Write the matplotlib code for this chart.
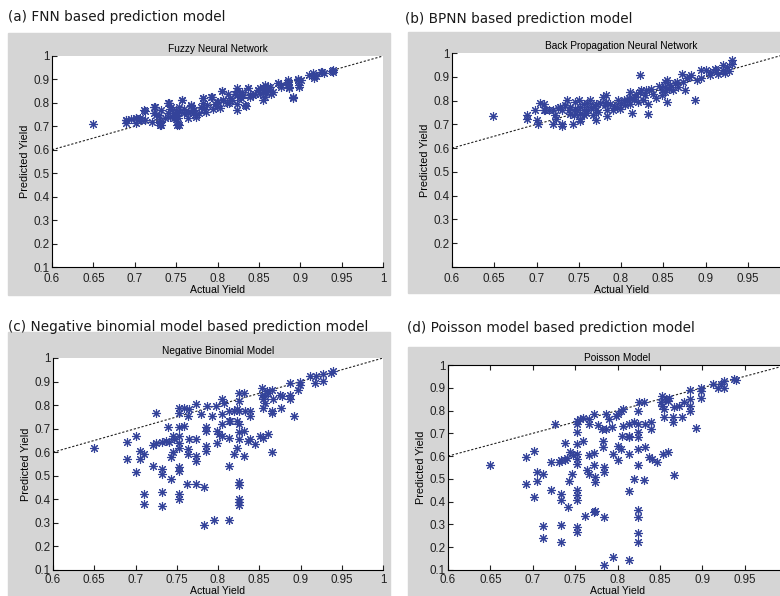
import matplotlib
matplotlib.use("Agg")
import matplotlib.pyplot as plt
from matplotlib.patches import Rectangle

# yield data, actual vs predicted, one pair of lists per model
fnn_x = [0.650, 0.690, 0.690, 0.701, 0.701, 0.706, 0.711, 0.712, 0.721, 0.723,
         0.723, 0.729, 0.730, 0.731, 0.732, 0.736, 0.740, 0.741, 0.742, 0.744,
         0.747, 0.750, 0.750, 0.752, 0.753, 0.752, 0.754, 0.757, 0.760, 0.764,
         0.764, 0.768, 0.770, 0.772, 0.774, 0.778, 0.782, 0.783, 0.784, 0.786,
         0.792, 0.797, 0.799, 0.801, 0.803, 0.805, 0.807, 0.813, 0.814, 0.817,
         0.823, 0.824, 0.824, 0.824, 0.829, 0.831, 0.835, 0.837, 0.839, 0.843,
         0.849, 0.851, 0.855, 0.855, 0.857, 0.859, 0.861, 0.863, 0.867, 0.873,
         0.877, 0.885, 0.885, 0.887, 0.891, 0.897, 0.898, 0.901, 0.911, 0.917,
         0.917, 0.925, 0.938, 0.940,
         0.690, 0.696, 0.702, 0.708, 0.712, 0.724, 0.726, 0.730, 0.732, 0.740,
         0.742, 0.746, 0.750, 0.751, 0.754, 0.757, 0.760, 0.764, 0.768, 0.770,
         0.774, 0.780, 0.782, 0.787, 0.793, 0.795, 0.799, 0.805, 0.807, 0.811,
         0.815, 0.821, 0.823, 0.827, 0.830, 0.833, 0.837, 0.839, 0.845, 0.849,
         0.851, 0.855, 0.857, 0.861, 0.865, 0.873, 0.877, 0.885, 0.887, 0.891,
         0.897, 0.899, 0.915, 0.919, 0.926, 0.929, 0.940]
fnn_y = [0.709, 0.729, 0.715, 0.734, 0.715, 0.734, 0.769, 0.729, 0.719, 0.781,
         0.755, 0.748, 0.715, 0.705, 0.769, 0.734, 0.758, 0.800, 0.741, 0.783,
         0.734, 0.769, 0.748, 0.712, 0.705, 0.734, 0.783, 0.812, 0.755, 0.762,
         0.734, 0.786, 0.755, 0.769, 0.741, 0.755, 0.798, 0.819, 0.776, 0.762,
         0.826, 0.795, 0.786, 0.805, 0.779, 0.852, 0.812, 0.838, 0.800, 0.812,
         0.852, 0.833, 0.795, 0.769, 0.819, 0.833, 0.786, 0.862, 0.823, 0.833,
         0.855, 0.838, 0.862, 0.812, 0.876, 0.848, 0.855, 0.866, 0.848, 0.883,
         0.866, 0.880, 0.890, 0.862, 0.823, 0.900, 0.876, 0.897, 0.919, 0.915,
         0.905, 0.933, 0.937, 0.933,
         0.726, 0.733, 0.736, 0.726, 0.765, 0.783, 0.748, 0.722, 0.705, 0.798,
         0.776, 0.755, 0.733, 0.705, 0.762, 0.812, 0.776, 0.755, 0.791, 0.769,
         0.748, 0.783, 0.819, 0.791, 0.826, 0.776, 0.805, 0.850, 0.812, 0.798,
         0.819, 0.840, 0.862, 0.826, 0.848, 0.791, 0.862, 0.833, 0.840, 0.855,
         0.862, 0.848, 0.826, 0.869, 0.840, 0.883, 0.876, 0.897, 0.869, 0.822,
         0.897, 0.869, 0.926, 0.916, 0.933, 0.926, 0.940]

bpnn_x = [0.649, 0.689, 0.689, 0.698, 0.700, 0.702, 0.704, 0.709, 0.709, 0.710,
          0.720, 0.720, 0.722, 0.723, 0.728, 0.730, 0.730, 0.730, 0.736, 0.738,
          0.740, 0.743, 0.744, 0.746, 0.748, 0.750, 0.751, 0.752, 0.752, 0.752,
          0.756, 0.756, 0.761, 0.763, 0.765, 0.767, 0.769, 0.771, 0.771, 0.773,
          0.779, 0.781, 0.782, 0.782, 0.783, 0.783, 0.787, 0.795, 0.797, 0.799,
          0.803, 0.807, 0.811, 0.811, 0.813, 0.817, 0.820, 0.822, 0.822, 0.824,
          0.826, 0.830, 0.832, 0.832, 0.836, 0.838, 0.848, 0.848, 0.852, 0.852,
          0.852, 0.854, 0.854, 0.858, 0.862, 0.866, 0.872, 0.873, 0.876, 0.881,
          0.883, 0.887, 0.895, 0.895, 0.905, 0.905, 0.911, 0.912, 0.915, 0.921,
          0.921, 0.923, 0.931, 0.931,
          0.715, 0.734, 0.745, 0.758, 0.775, 0.790, 0.805, 0.815, 0.828, 0.842,
          0.845, 0.857, 0.864, 0.868, 0.878, 0.890, 0.900, 0.926, 0.928, 0.760,
          0.770, 0.792, 0.800, 0.809, 0.818, 0.740, 0.726, 0.756]
bpnn_y = [0.734, 0.738, 0.724, 0.762, 0.720, 0.703, 0.790, 0.787, 0.759, 0.759,
          0.759, 0.703, 0.738, 0.724, 0.773, 0.759, 0.703, 0.692, 0.801, 0.759,
          0.773, 0.703, 0.738, 0.794, 0.759, 0.801, 0.773, 0.724, 0.745, 0.715,
          0.787, 0.759, 0.759, 0.801, 0.773, 0.738, 0.776, 0.787, 0.720, 0.752,
          0.815, 0.780, 0.822, 0.794, 0.759, 0.734, 0.787, 0.773, 0.801, 0.766,
          0.804, 0.804, 0.787, 0.836, 0.748, 0.815, 0.794, 0.906, 0.836, 0.846,
          0.801, 0.846, 0.787, 0.745, 0.850, 0.829, 0.846, 0.822, 0.878, 0.857,
          0.836, 0.885, 0.794, 0.864, 0.843, 0.878, 0.910, 0.878, 0.843, 0.899,
          0.906, 0.801, 0.927, 0.896, 0.906, 0.920, 0.934, 0.927, 0.913, 0.948,
          0.927, 0.916, 0.972, 0.955,
          0.762, 0.780, 0.766, 0.748, 0.790, 0.762, 0.780, 0.808, 0.822, 0.812,
          0.860, 0.850, 0.872, 0.858, 0.896, 0.888, 0.928, 0.940, 0.926, 0.790,
          0.760, 0.776, 0.790, 0.812, 0.828, 0.744, 0.770, 0.740]

nb_x = [0.650, 0.690, 0.690, 0.700, 0.700, 0.705, 0.705, 0.710, 0.710, 0.710,
        0.721, 0.721, 0.725, 0.725, 0.732, 0.732, 0.732, 0.732, 0.732, 0.737,
        0.739, 0.741, 0.743, 0.743, 0.745, 0.745, 0.747, 0.753, 0.753, 0.753,
        0.753, 0.753, 0.753, 0.753, 0.753, 0.753, 0.753, 0.759, 0.759, 0.764,
        0.764, 0.765, 0.764, 0.765, 0.763, 0.773, 0.773, 0.773, 0.773, 0.773,
        0.779, 0.783, 0.783, 0.785, 0.785, 0.785, 0.785, 0.787, 0.793, 0.795,
        0.797, 0.799, 0.799, 0.801, 0.805, 0.805, 0.807, 0.805, 0.805, 0.813,
        0.813, 0.813, 0.813, 0.815, 0.813, 0.819, 0.819, 0.823, 0.825, 0.825,
        0.825, 0.823, 0.825, 0.825, 0.825, 0.823, 0.825, 0.825, 0.825, 0.825,
        0.825, 0.832, 0.833, 0.832, 0.832, 0.836, 0.839, 0.839, 0.839, 0.845,
        0.851, 0.855, 0.853, 0.853, 0.855, 0.857, 0.859, 0.861, 0.857, 0.855,
        0.860, 0.865, 0.866, 0.866, 0.867, 0.866, 0.875, 0.877, 0.876, 0.887,
        0.887, 0.887, 0.892, 0.897, 0.899, 0.899, 0.912, 0.917, 0.919, 0.927,
        0.927, 0.937, 0.939]
nb_y = [0.620, 0.644, 0.571, 0.667, 0.515, 0.606, 0.571, 0.592, 0.423, 0.381,
        0.543, 0.630, 0.641, 0.768, 0.644, 0.529, 0.508, 0.430, 0.370, 0.648,
        0.705, 0.644, 0.487, 0.578, 0.600, 0.670, 0.655, 0.789, 0.768, 0.705,
        0.670, 0.641, 0.620, 0.536, 0.522, 0.423, 0.402, 0.712, 0.789, 0.613,
        0.592, 0.655, 0.754, 0.782, 0.466, 0.466, 0.803, 0.655, 0.585, 0.564,
        0.761, 0.452, 0.290, 0.705, 0.691, 0.627, 0.606, 0.796, 0.754, 0.311,
        0.796, 0.691, 0.641, 0.677, 0.761, 0.824, 0.810, 0.719, 0.670, 0.543,
        0.311, 0.662, 0.733, 0.733, 0.775, 0.775, 0.592, 0.782, 0.775, 0.852,
        0.817, 0.733, 0.719, 0.684, 0.655, 0.620, 0.473, 0.459, 0.402, 0.388,
        0.374, 0.852, 0.775, 0.691, 0.585, 0.648, 0.775, 0.754, 0.655, 0.634,
        0.670, 0.662, 0.873, 0.845, 0.824, 0.838, 0.859, 0.852, 0.810, 0.789,
        0.677, 0.866, 0.775, 0.768, 0.824, 0.600, 0.845, 0.838, 0.789, 0.824,
        0.845, 0.894, 0.754, 0.866, 0.887, 0.900, 0.922, 0.894, 0.922, 0.930,
        0.901, 0.937, 0.944]

poisson_x = [0.650, 0.692, 0.692, 0.702, 0.702, 0.705, 0.705, 0.712, 0.712, 0.712,
             0.722, 0.722, 0.726, 0.731, 0.733, 0.733, 0.733, 0.733, 0.733, 0.738,
             0.740, 0.738, 0.742, 0.743, 0.744, 0.746, 0.748, 0.752, 0.752, 0.752,
             0.752, 0.752, 0.752, 0.752, 0.752, 0.752, 0.752, 0.752, 0.752, 0.756,
             0.759, 0.759, 0.764, 0.766, 0.762, 0.766, 0.766, 0.766, 0.772, 0.772,
             0.774, 0.772, 0.772, 0.773, 0.773, 0.777, 0.782, 0.783, 0.783, 0.784,
             0.784, 0.784, 0.784, 0.786, 0.786, 0.790, 0.794, 0.795, 0.795, 0.798,
             0.800, 0.800, 0.800, 0.804, 0.805, 0.806, 0.806, 0.804, 0.814, 0.814,
             0.814, 0.814, 0.814, 0.814, 0.820, 0.820, 0.824, 0.824, 0.824, 0.824,
             0.824, 0.824, 0.824, 0.824, 0.824, 0.824, 0.825, 0.831, 0.831, 0.833,
             0.839, 0.839, 0.833, 0.837, 0.841, 0.847, 0.852, 0.851, 0.853, 0.855,
             0.857, 0.859, 0.861, 0.855, 0.854, 0.859, 0.865, 0.865, 0.867, 0.867,
             0.873, 0.876, 0.878, 0.886, 0.886, 0.886, 0.886, 0.893, 0.898, 0.899,
             0.898, 0.913, 0.918, 0.922, 0.926, 0.926, 0.938, 0.940]
poisson_y = [0.563, 0.479, 0.595, 0.624, 0.421, 0.530, 0.489, 0.523, 0.293, 0.239,
             0.450, 0.574, 0.741, 0.574, 0.581, 0.435, 0.406, 0.297, 0.224, 0.581,
             0.591, 0.658, 0.377, 0.489, 0.620, 0.523, 0.603, 0.755, 0.741, 0.705,
             0.654, 0.610, 0.588, 0.566, 0.450, 0.428, 0.406, 0.290, 0.268, 0.763,
             0.766, 0.668, 0.537, 0.523, 0.338, 0.603, 0.763, 0.741, 0.562, 0.355,
             0.358, 0.614, 0.785, 0.508, 0.486, 0.737, 0.719, 0.668, 0.639, 0.333,
             0.122, 0.552, 0.530, 0.785, 0.719, 0.763, 0.726, 0.610, 0.159, 0.777,
             0.785, 0.581, 0.646, 0.632, 0.690, 0.734, 0.806, 0.799, 0.741, 0.690,
             0.683, 0.445, 0.144, 0.610, 0.501, 0.748, 0.741, 0.799, 0.707, 0.683,
             0.632, 0.559, 0.362, 0.333, 0.261, 0.224, 0.836, 0.838, 0.493, 0.741,
             0.751, 0.719, 0.639, 0.595, 0.588, 0.576, 0.862, 0.836, 0.821, 0.806,
             0.850, 0.843, 0.857, 0.770, 0.610, 0.617, 0.748, 0.770, 0.814, 0.518,
             0.821, 0.770, 0.836, 0.850, 0.821, 0.799, 0.891, 0.722, 0.901, 0.886,
             0.853, 0.916, 0.897, 0.916, 0.930, 0.897, 0.937, 0.934]

x_ticks = [0.6, 0.65, 0.7, 0.75, 0.8, 0.85, 0.9, 0.95, 1]
x_tick_labels = ["0.6", "0.65", "0.7", "0.75", "0.8", "0.85", "0.9", "0.95", "1"]
y_ticks = [0.1, 0.2, 0.3, 0.4, 0.5, 0.6, 0.7, 0.8, 0.9, 1]
y_tick_labels = ["0.1", "0.2", "0.3", "0.4", "0.5", "0.6", "0.7", "0.8", "0.9", "1"]

W, H = 780, 596
GREY = "#d5d5d5"
STAR = "#34439a"
TICK_FONT = "Liberation Sans"


def px_rect(left, top, right, bottom):
    # pixel box (origin top-left) -> figure fraction [l, b, w, h]
    return [left / W, 1 - bottom / H, (right - left) / W, (bottom - top) / H]


def panel(fig, frame, box, xs, ys, title, caption, cap_xy,
          box_on=False, hide_y01=False, hide_x1=False, xpad=4.5):
    l, t, r, b = frame
    fig.patches.append(Rectangle((l / W, 1 - b / H), (r - l) / W, (b - t) / H,
                                 transform=fig.transFigure, color=GREY,
                                 zorder=-10))
    fig.text(cap_xy[0] / W, 1 - cap_xy[1] / H, caption, family="DejaVu Sans",
             fontsize=9.8, va="center", ha="left", color="#1a1a1a")

    ax = fig.add_axes(px_rect(*box))
    ax.plot([0.6, 1], [0.6, 1], color="#222222", lw=0.8,
            linestyle=(0, (2.0, 1.6)), zorder=1)
    ax.plot(xs, ys, linestyle="none", marker=(8, 2, 0), markersize=6.5,
            markeredgewidth=0.8, color=STAR, zorder=2)
    ax.set_xlim(0.6, 1)
    ax.set_ylim(0.1, 1)
    ax.set_xticks(x_ticks)
    xl = list(x_tick_labels)
    if hide_x1:
        xl[-1] = ""
    ax.set_xticklabels(xl)
    ax.set_yticks(y_ticks)
    yl = list(y_tick_labels)
    if hide_y01:
        yl[0] = ""
    ax.set_yticklabels(yl)
    ax.tick_params(direction="in", length=3.5, width=0.8, pad=2,
                   labelsize=8.4, colors="#222222",
                   top=box_on, right=box_on)
    ax.tick_params(axis="x", pad=xpad)
    for lab in ax.get_xticklabels() + ax.get_yticklabels():
        lab.set_family(TICK_FONT)
    for side in ("top", "right"):
        ax.spines[side].set_visible(box_on)
    for side in ("left", "bottom", "top", "right"):
        ax.spines[side].set_linewidth(0.8)
    ax.set_xlabel("Actual Yield", family=TICK_FONT, fontsize=7.6, labelpad=0)
    ax.set_ylabel("Predicted Yield", family=TICK_FONT, fontsize=7.8, labelpad=2)
    ax.set_title(title, family=TICK_FONT, fontsize=7.3, pad=3)
    return ax


fig = plt.figure(figsize=(W / 100, H / 100), dpi=100)

panel(fig, (8, 33, 390, 295), (52, 56, 383, 267), fnn_x, fnn_y,
      "Fuzzy Neural Network", "(a) FNN based prediction model", (8, 17))
panel(fig, (408, 32, 800, 293), (452, 53, 790, 267), bpnn_x, bpnn_y,
      "Back Propagation Neural Network", "(b) BPNN based prediction model",
      (405, 19), hide_y01=True, hide_x1=True)
panel(fig, (8, 332, 390, 620), (53, 358, 383, 570), nb_x, nb_y,
      "Negative Binomial Model",
      "(c) Negative binomial model based prediction model", (8, 327),
      xpad=3)
panel(fig, (408, 347, 800, 620), (448, 365, 787, 570), poisson_x, poisson_y,
      "Poisson Model", "(d) Poisson model based prediction model", (407, 328),
      box_on=True, hide_x1=True, xpad=3)

fig.savefig("out.png", dpi=100)
